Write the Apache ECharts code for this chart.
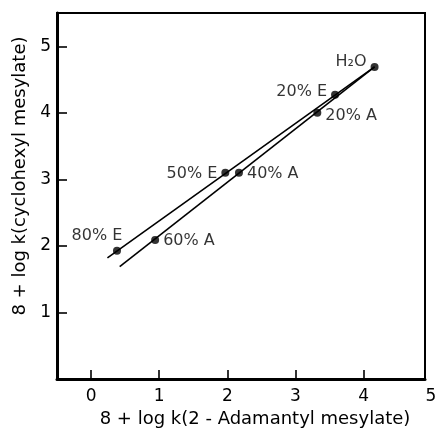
<!DOCTYPE html>
<html>
<head>
<meta charset="utf-8">
<script src="https://cdn.jsdelivr.net/npm/echarts@6/dist/echarts.min.js"></script>
<style>
  body { margin: 0; background: #fff; }
  #chart { width: 435px; height: 433px; }
</style>
</head>
<body>
<div id="chart"></div>
<script>
// solvent points, ethanol (E) series
let eNames = ['80% E', '50% E', '20% E'];
let eX = [0.38, 1.97, 3.58];
let eY = [1.93, 3.10, 4.27];
// acetone (A) series
let aNames = ['60% A', '40% A', '20% A'];
let aX = [0.94, 2.17, 3.32];
let aY = [2.09, 3.10, 4.00];
// water, common to both lines
let wName = 'H₂O';
let wX = 4.16;
let wY = 4.69;
// where the drawn lines start (they end at H2O)
let eLineStart = [0.24, 1.82];
let aLineStart = [0.42, 1.69];

let xTicks = [0, 1, 2, 3, 4];
let xLastLabel = 5;
let yTicks = [1, 2, 3, 4, 5];

let font = 'DejaVu Sans';

// label placement for every point: [position, offsetX, offsetY]
let eLabelPos = [['top', -20, 1], ['left', 0, 1], ['left', 0, -3]];
let aLabelPos = [['right', 0, 1], ['right', 0, 1], ['right', 0, 3]];
let wLabelPos = ['left', 0, -5];

function point(name, x, y, pos)
{
    return {
        name: name,
        value: [x, y],
        label: {
            show: true,
            formatter: name,
            position: pos[0],
            distance: 4,
            offset: [pos[1], pos[2]],
            color: '#000',
            fontFamily: font,
            fontSize: 16
        }
    };
}

let points = [];
eNames.forEach((n, i) => points.push(point(n, eX[i], eY[i], eLabelPos[i])));
aNames.forEach((n, i) => points.push(point(n, aX[i], aY[i], aLabelPos[i])));
points.push(point(wName, wX, wY, wLabelPos));

var myChart = echarts.init(document.getElementById('chart'));

let lineStyle = { color: '#000', width: 1.6 };

let option = {
    backgroundColor: '#fff',
    animation: false,
    grid: {
        left: 57, top: 13, right: 10, bottom: 46,
        show: true,
        borderColor: '#000',
        borderWidth: 2
    },
    xAxis: {
        type: 'value',
        min: -0.5,
        max: 4.9,
        name: '8 + log k(2 - Adamantyl mesylate)',
        nameLocation: 'middle',
        nameGap: 27,
        nameTextStyle: { color: '#000', fontFamily: font, fontSize: 18, padding: [0, 0, 0, 28] },
        axisLine: { show: true, onZero: false, lineStyle: { color: '#000', width: 3 } },
        axisTick: { show: true, inside: true, length: 9, customValues: xTicks, lineStyle: { color: '#000', width: 1.6 } },
        axisLabel: { customValues: xTicks, margin: 9, color: '#000', fontFamily: font, fontSize: 17 },
        splitLine: { show: false }
    },
    yAxis: {
        type: 'value',
        min: 0,
        max: 5.5,
        name: '8 + log k(cyclohexyl mesylate)',
        nameLocation: 'middle',
        nameGap: 22,
        nameRotate: 90,
        nameTextStyle: { color: '#000', fontFamily: font, fontSize: 18, padding: [0, 0, 0, 40] },
        axisLine: { show: true, onZero: false, lineStyle: { color: '#000', width: 3 } },
        axisTick: { show: true, inside: true, length: 10, customValues: yTicks, lineStyle: { color: '#000', width: 1.6 } },
        axisLabel: { customValues: yTicks, margin: 6, color: '#000', fontFamily: font, fontSize: 17 },
        splitLine: { show: false }
    },
    series: [
        {
            type: 'line',
            data: [eLineStart, [wX, wY]],
            showSymbol: false,
            lineStyle: lineStyle,
            silent: true
        },
        {
            type: 'line',
            data: [aLineStart, [wX, wY]],
            showSymbol: false,
            lineStyle: lineStyle,
            silent: true
        },
        {
            type: 'scatter',
            symbolSize: 8,
            itemStyle: { color: '#000' },
            data: points
        }
    ]
};

myChart.setOption(option);

// the "5" label sits just past the right edge of the frame
let p = myChart.convertToPixel({ gridIndex: 0 }, [xLastLabel, 0]);
myChart.setOption({
    graphic: [{
        type: 'text',
        x: p[0] - 1,
        y: p[1] + 9,
        style: {
            text: String(xLastLabel),
            fill: '#000',
            font: '17px "' + font + '"',
            textAlign: 'center',
            textVerticalAlign: 'top'
        }
    }]
});
</script>
</body>
</html>
